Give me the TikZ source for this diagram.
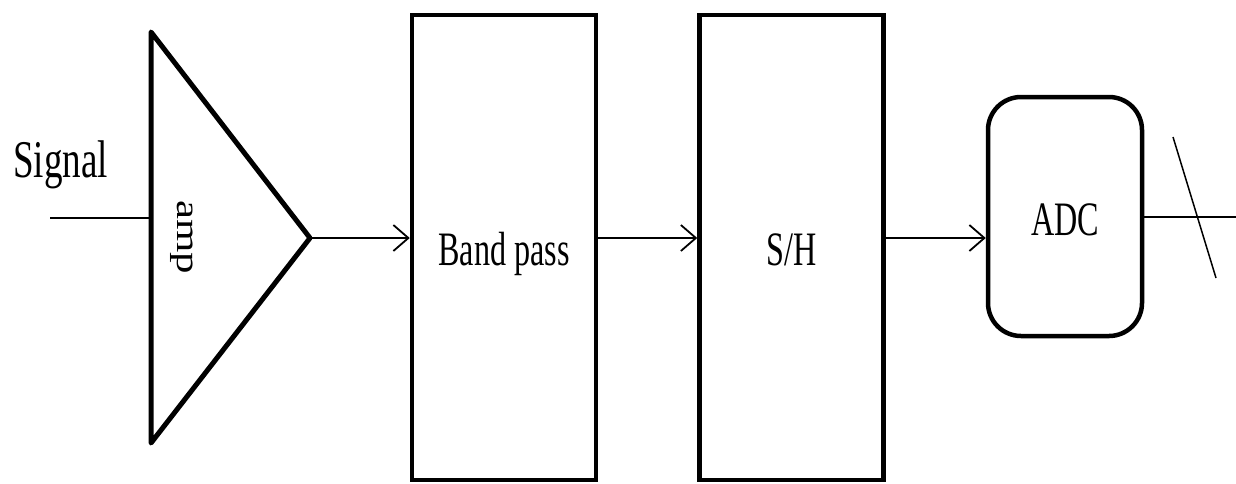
\documentclass[tikz,border=0pt]{standalone}
\usepackage{fontspec}
\setmainfont{Liberation Serif}[FakeStretch=0.67]
\newfontfamily\ampfont{Liberation Serif}[FakeStretch=1.3]
\newfontfamily\sigfont{Liberation Serif}[FakeStretch=0.7]
\usetikzlibrary{arrows.meta}
\begin{document}
\begin{tikzpicture}[x=1pt,y=-1pt,
  bigtext/.style={font=\fontsize{48}{48}\selectfont},
  blockbox/.style={draw, line width=4.5pt, minimum width=184pt, minimum height=465pt, inner sep=0pt, text height=35pt, text depth=0pt, bigtext},
  adcbox/.style={draw, line width=4.5pt, rounded corners=33pt, minimum width=154pt, minimum height=239pt, inner sep=0pt, text height=37pt, text depth=0pt, bigtext},
  conn/.style={line width=1.8pt, -{Straight Barb[length=15pt,width=26pt,line width=1.8pt]}},
  wire/.style={line width=1.8pt},
  ampshape/.style={line width=5pt, line join=round},
]
\useasboundingbox (0,0) rectangle (1236,483);
% input label
\node[font=\sigfont\fontsize{53}{53}\selectfont, anchor=base west, inner sep=0pt] (sig) at (13,177) {Signal};
% amplifier triangle
\coordinate (ampT) at (151,32);
\coordinate (ampB) at (151,443);
\coordinate (ampout) at (310,238);
\coordinate (ampin) at (151,218);
\coordinate (inend) at (50,218);
\draw[ampshape] (ampT) -- (ampout) -- (ampB) -- cycle;
\node[rotate=-90, inner sep=0pt, font=\ampfont\fontsize{33}{33}\selectfont] (amplabel) at (182,237) {amp};
\draw[wire] (inend) -- (ampin);
% blocks
\node[blockbox] (bp) at (504,247.5) {Band pass};
\node[blockbox] (sh) at (791.5,247.5) {S/H};
\node[adcbox] (adc) at (1065,216.5) {ADC};
% connectors
\draw[conn] (ampout) -- (bp.west |- ampout);
\draw[conn] (bp.east |- ampout) -- (sh.west |- ampout);
\draw[conn] (sh.east |- ampout) -- (adc.west |- ampout);
% output bus
\coordinate (outend) at (1236,217);
\draw[wire] (adc.east |- outend) -- (outend);
\coordinate (s1) at (1173,137);
\coordinate (s2) at (1216,278);
\draw[wire, line width=1.5pt] (s1) -- (s2);
\end{tikzpicture}
\end{document}
